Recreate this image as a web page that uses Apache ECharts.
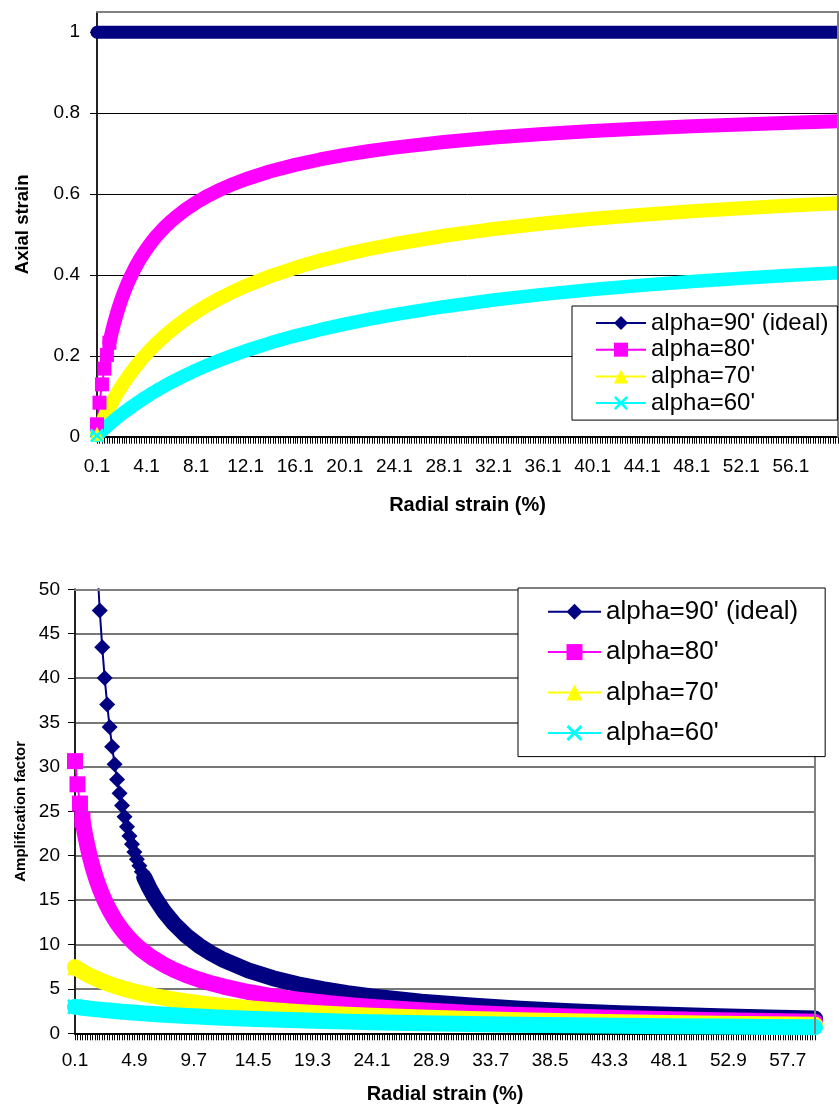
<!DOCTYPE html>
<html>
<head>
<meta charset="utf-8">
<script src="https://cdn.jsdelivr.net/npm/echarts@6/dist/echarts.min.js"></script>
<style>
html,body{margin:0;padding:0;background:#ffffff;}
#chart{width:839px;height:1111px;}
</style>
</head>
<body>
<div id="chart"></div>
<script>
// ---------- data ----------
const seriesNames = ["alpha=90' (ideal)", "alpha=80'", "alpha=70'", "alpha=60'"];

// radial strain (%) at the sampled points
const radialStrain = [0.1,0.3,0.5,0.7,0.9,1.1,1.3,1.5,1.7,1.9,2.1,2.3,2.5,2.7,2.9,3.1,3.3,3.5,3.7,3.9,4.1,4.3,4.5,4.7,4.9,5.1,5.3,5.5,5.7,6.1,6.5,7.3,8.1,9.1,10.1,11.1,12.1,14.1,16.1,18.1,20.1,22.1,24.1,28.1,32.1,36.1,40.1,44.1,48.1,52.1,56.1,59.9];

// top chart: axial strain
const axial90 = [1,1,1,1,1,1,1,1,1,1,1,1,1,1,1,1,1,1,1,1,1,1,1,1,1,1,1,1,1,1,1,1,1,1,1,1,1,1,1,1,1,1,1,1,1,1,1,1,1,1,1,1];
const axial80 = [0.0307,0.0841,0.1294,0.1683,0.2022,0.2322,0.2588,0.2827,0.3043,0.3240,0.3420,0.3585,0.3738,0.3879,0.4010,0.4133,0.4248,0.4355,0.4457,0.4552,0.4642,0.4728,0.4809,0.4886,0.4959,0.5028,0.5095,0.5159,0.5219,0.5333,0.5439,0.5626,0.5789,0.5965,0.6116,0.6249,0.6365,0.6562,0.6721,0.6854,0.6966,0.7063,0.7146,0.7285,0.7395,0.7484,0.7559,0.7621,0.7675,0.7721,0.7762,0.7796];
const axial70 = [0.0075,0.0218,0.0355,0.0485,0.0610,0.0729,0.0843,0.0952,0.1057,0.1157,0.1254,0.1347,0.1437,0.1523,0.1607,0.1687,0.1765,0.1840,0.1913,0.1984,0.2052,0.2118,0.2182,0.2244,0.2305,0.2364,0.2421,0.2476,0.2530,0.2634,0.2732,0.2915,0.3081,0.3268,0.3437,0.3589,0.3728,0.3970,0.4176,0.4354,0.4508,0.4644,0.4764,0.4968,0.5134,0.5272,0.5389,0.5489,0.5575,0.5650,0.5717,0.5774];
const axial60 = [0.0030,0.0088,0.0146,0.0202,0.0256,0.0310,0.0362,0.0413,0.0463,0.0512,0.0560,0.0607,0.0653,0.0698,0.0742,0.0785,0.0828,0.0869,0.0910,0.0950,0.0989,0.1028,0.1066,0.1103,0.1139,0.1175,0.1210,0.1245,0.1279,0.1345,0.1409,0.1531,0.1646,0.1779,0.1903,0.2018,0.2125,0.2321,0.2493,0.2646,0.2783,0.2907,0.3019,0.3214,0.3379,0.3519,0.3639,0.3744,0.3836,0.3918,0.3990,0.4053];

// bottom chart: amplification factor (null = above the visible range)
const amp90 = [null,null,null,null,null,null,null,null,null,52.63,47.62,43.48,40.00,37.04,34.48,32.26,30.30,28.57,27.03,25.64,24.39,23.26,22.22,21.28,20.41,19.61,18.87,18.18,17.54,16.39,15.38,13.70,12.35,10.99,9.90,9.01,8.26,7.09,6.21,5.52,4.98,4.52,4.15,3.56,3.12,2.77,2.49,2.27,2.08,1.92,1.78,1.67];
const amp80 = [30.65,28.04,25.87,24.04,22.47,21.10,19.91,18.85,17.90,17.05,16.28,15.59,14.95,14.37,13.83,13.33,12.87,12.44,12.04,11.67,11.32,10.99,10.69,10.39,10.12,9.86,9.61,9.38,9.16,8.74,8.37,7.71,7.15,6.55,6.06,5.63,5.26,4.65,4.17,3.79,3.47,3.20,2.97,2.59,2.30,2.07,1.885,1.728,1.596,1.482,1.384,1.302];
const amp70 = [7.45,7.27,7.10,6.93,6.77,6.62,6.48,6.35,6.22,6.09,5.97,5.86,5.75,5.64,5.54,5.44,5.35,5.26,5.17,5.09,5.00,4.925,4.85,4.775,4.70,4.634,4.57,4.502,4.44,4.32,4.20,3.99,3.80,3.59,3.40,3.23,3.08,2.82,2.59,2.41,2.24,2.10,1.977,1.768,1.599,1.460,1.344,1.245,1.159,1.085,1.019,0.964];
const amp60 = [2.982,2.947,2.913,2.879,2.847,2.815,2.784,2.753,2.724,2.695,2.666,2.638,2.611,2.585,2.559,2.533,2.508,2.484,2.460,2.436,2.413,2.390,2.368,2.347,2.325,2.304,2.284,2.264,2.244,2.205,2.168,2.098,2.032,1.955,1.884,1.818,1.757,1.646,1.548,1.462,1.385,1.315,1.253,1.144,1.053,0.975,0.908,0.849,0.798,0.752,0.711,0.677];

// tick labels
const topXLabels = [0.1,4.1,8.1,12.1,16.1,20.1,24.1,28.1,32.1,36.1,40.1,44.1,48.1,52.1,56.1];
const bottomXLabels = [0.1,4.9,9.7,14.5,19.3,24.1,28.9,33.7,38.5,43.3,48.1,52.9,57.7];
const topYLabels = [0,0.2,0.4,0.6,0.8,1];

// ---------- styling / layout ----------
const X_MIN = 0.1, X_MAX = 59.9, CAT_STEP = 0.2;
const FONT = "'Liberation Sans', Arial, Helvetica, sans-serif";
const colors = ['#000080', '#FF00FF', '#FFFF00', '#00FFFF'];
const crossPath = 'path://M0,1.3L1.3,0L5,3.7L8.7,0L10,1.3L6.3,5L10,8.7L8.7,10L5,6.3L1.3,10L0,8.7L3.7,5Z';
const symbols = ['diamond', 'rect', 'triangle', crossPath];

// category tick marks (one per category of the original sheet)
const catTicks = [];
for (let i = 0; ; i++) {
  const v = +(X_MIN + CAT_STEP * i).toFixed(1);
  if (v > X_MAX + 1e-9) break;
  catTicks.push(v);
}

const fmt = v => String(+(+v).toFixed(4));

function mainX(gridIndex, labels, labelMargin, nameGap) {
  return {
    gridIndex, type: 'value', min: X_MIN, max: X_MAX, position: 'bottom',
    name: 'Radial strain (%)', nameLocation: 'middle', nameGap, nameMoveOverlap: false,
    nameTextStyle: { fontFamily: FONT, fontWeight: 'bold', fontSize: 20, color: '#000' },
    axisLine: { show: true, onZero: false, lineStyle: { color: '#000', width: 2 } },
    axisTick: { show: true, customValues: catTicks, length: 7, inside: false, lineStyle: { color: '#000', width: 1 } },
    axisLabel: { show: true, customValues: labels, margin: labelMargin, formatter: fmt,
      fontFamily: FONT, fontSize: 19, color: '#000' },
    splitLine: { show: false }
  };
}
function borderX(gridIndex) {
  return {
    gridIndex, type: 'value', min: X_MIN, max: X_MAX, position: 'top', z: 5,
    axisLine: { show: true, onZero: false, lineStyle: { color: '#808080', width: 2 } },
    axisTick: { show: false }, axisLabel: { show: false }, splitLine: { show: false }
  };
}
function borderY(gridIndex, max) {
  return {
    gridIndex, type: 'value', min: 0, max, position: 'right', z: 5,
    axisLine: { show: true, onZero: false, lineStyle: { color: '#808080', width: 2 } },
    axisTick: { show: false }, axisLabel: { show: false }, splitLine: { show: false }
  };
}

// Each curve: markers + thin line where the sheet's markers stand apart,
// then a band (overlapping markers of the original) for the rest.
function curveSeries(name, idx, ys, xAxisIndex, yAxisIndex, symSize, bandWidth, bandFrom) {
  const data = radialStrain.map((x, i) => [x, ys[i]]);
  const color = colors[idx];
  return [
    {
      name, type: 'line', xAxisIndex, yAxisIndex,
      data: data.filter(d => d[0] <= bandFrom),
      symbol: symbols[idx], symbolSize: symSize, showSymbol: true, showAllSymbol: true,
      clip: true, connectNulls: false,
      lineStyle: { color, width: 2 },
      itemStyle: { color, borderWidth: 0 },
      emphasis: { disabled: true }, silent: true, animation: false
    },
    {
      name, type: 'line', xAxisIndex, yAxisIndex,
      data: data.filter(d => d[0] >= bandFrom && d[1] != null),
      symbol: 'none', clip: false,
      lineStyle: { color, width: bandWidth, join: 'round', cap: 'round' },
      emphasis: { disabled: true }, silent: true, animation: false
    }
  ];
}

const topSeries = [axial90, axial80, axial70, axial60];
const bottomSeries = [amp90, amp80, amp70, amp60];
const topBandFrom = [0.1, 1.1, 0.1, 0.1];
const bottomBandFrom = [5.7, 0.7, 0.1, 0.1];
const topBandWidth = [13, 14, 14, 13.5];
const bottomBandWidth = [16, 16, 16, 16];

const series = [];
topSeries.forEach((ys, i) => series.push(...curveSeries(seriesNames[i], i, ys, 0, 0, 14, topBandWidth[i], topBandFrom[i])));
bottomSeries.forEach((ys, i) => series.push(...curveSeries(seriesNames[i], i, ys, 2, 2, 16, bottomBandWidth[i], bottomBandFrom[i])));

const option = {
  animation: false,
  backgroundColor: '#ffffff',
  textStyle: { fontFamily: FONT },
  grid: [
    { left: 97, top: 12, width: 741, height: 424.7, outerBoundsMode: 'none', containLabel: false, show: false },
    { left: 75, top: 589.3, width: 740, height: 444, outerBoundsMode: 'none', containLabel: false, show: false }
  ],
  xAxis: [
    mainX(0, topXLabels, 21, 59),
    borderX(0),
    mainX(1, bottomXLabels, 18, 51),
    borderX(1)
  ],
  yAxis: [
    {
      gridIndex: 0, type: 'value', min: 0, max: 1.05, interval: 0.2, position: 'left',
      name: 'Axial strain', nameLocation: 'middle', nameRotate: 90, nameGap: 65, nameMoveOverlap: false,
      nameTextStyle: { fontFamily: FONT, fontWeight: 'bold', fontSize: 18.5, color: '#000' },
      axisLine: { show: true, onZero: false, lineStyle: { color: '#222', width: 2 } },
      axisTick: { show: true, customValues: topYLabels, length: 7, inside: false, lineStyle: { color: '#000', width: 1 } },
      axisLabel: { show: true, customValues: topYLabels, margin: 17, formatter: fmt, fontFamily: FONT, fontSize: 19, color: '#000' },
      splitLine: { show: true, lineStyle: { color: '#000', width: 1 } }
    },
    borderY(0, 1.05),
    {
      gridIndex: 1, type: 'value', min: 0, max: 50, interval: 5, position: 'left',
      name: 'Amplification factor', nameLocation: 'middle', nameRotate: 90, nameGap: 47, nameMoveOverlap: false,
      nameTextStyle: { fontFamily: FONT, fontWeight: 'bold', fontSize: 15, color: '#000' },
      axisLine: { show: true, onZero: false, lineStyle: { color: '#222', width: 2 } },
      axisTick: { show: true, length: 7, inside: false, lineStyle: { color: '#000', width: 1 } },
      axisLabel: { show: true, margin: 15, formatter: fmt, fontFamily: FONT, fontSize: 19, color: '#000' },
      splitLine: { show: true, lineStyle: { color: '#777', width: 2 } }
    },
    borderY(1, 50)
  ],
  legend: [
    {
      orient: 'vertical', left: 572, top: 306, padding: [5, 9, 5, 23],
      itemWidth: 50, itemHeight: 17.5, itemGap: 2.7,
      backgroundColor: '#ffffff', borderColor: '#000', borderWidth: 1, borderRadius: 0,
      data: seriesNames, selectedMode: false, z: 10,
      textStyle: { fontFamily: FONT, fontSize: 24, lineHeight: 24, color: '#000' }
    },
    {
      orient: 'vertical', left: 518, top: 588, padding: [10.7, 27, 10.7, 29],
      itemWidth: 53, itemHeight: 20, itemGap: 14.4,
      backgroundColor: '#ffffff', borderColor: '#000', borderWidth: 1, borderRadius: 0,
      data: seriesNames, selectedMode: false, z: 10,
      textStyle: { fontFamily: FONT, fontSize: 26, lineHeight: 26, color: '#000' }
    }
  ],
  series
};

const chart = echarts.init(document.getElementById('chart'), null, { renderer: 'canvas' });
chart.setOption(option);
</script>
</body>
</html>
